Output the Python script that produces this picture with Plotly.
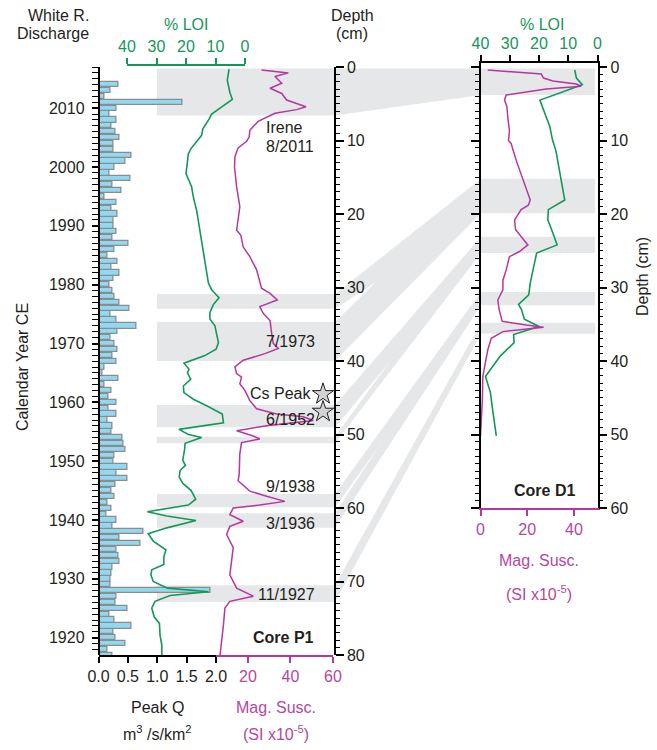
import plotly.graph_objects as go

# ---------------- DATA ----------------
years = list(range(1917, 2015))
peak_q_desc = [  # 2014 -> 1917
    0.34, 0.20, 0.11, 1.43, 0.31, 0.18, 0.31, 0.22, 0.29, 0.36,
    0.26, 0.26, 0.57, 0.46, 0.28, 0.19, 0.54, 0.23, 0.39, 0.10,
    0.31, 0.22, 0.33, 0.26, 0.26, 0.31, 0.23, 0.51, 0.27, 0.15,
    0.32, 0.22, 0.36, 0.26, 0.19, 0.24, 0.28, 0.35, 0.52, 0.21,
    0.31, 0.65, 0.33, 0.21, 0.27, 0.32, 0.24, 0.30, 0.10, 0.06,
    0.34, 0.10, 0.22, 0.17, 0.31, 0.17, 0.31, 0.16, 0.24, 0.22,
    0.40, 0.43, 0.46, 0.28, 0.25, 0.50, 0.31, 0.50, 0.29, 0.22,
    0.27, 0.16, 0.22, 0.13, 0.30, 0.24, 0.76, 0.35, 0.72, 0.31,
    0.34, 0.35, 0.23, 0.22, 0.20, 0.20, 1.91, 0.30, 0.29, 0.50,
    0.18, 0.27, 0.57, 0.26, 0.29, 0.46, 0.16, 0.24]
peak_q = peak_q_desc[::-1]

p1_loi_depth = [0.3, 1.8, 3.5, 4.4, 5.3, 6.4, 7.1, 8.4, 9.3, 11.1, 11.8, 14.5, 16.3, 17.7, 19.5,
                21.8, 24.5, 26.3, 29.4, 30.3, 31.4, 32.3, 33.4, 34.3, 35.2, 37.5, 38.4, 39.3, 40.3,
                41.1, 41.6, 42.5, 43.4, 44.3, 45.2, 46.1, 47.2, 48.4, 49.3, 50.0, 50.4, 51.2, 52.1,
                53.5, 54.2, 54.9, 55.8, 56.7, 57.6, 58.8, 59.6, 60.5, 61.1, 61.7, 62.7, 63.5, 64.5,
                65.7, 66.6, 67.7, 68.4, 69.1, 70.0, 70.9, 71.4, 71.9, 72.7, 73.6, 74.8, 75.7, 77.3,
                78.7, 80.0]
p1_loi = [5.4, 6.0, 5.1, 4.3, 7.4, 11.3, 12.2, 14.3, 14.7, 18.3, 19.2, 20.0, 18.1, 17.5, 16.4,
          15.5, 14.3, 13.7, 12.4, 11.3, 8.8, 10.7, 11.9, 11.9, 10.2, 9.0, 9.8, 13.8, 20.7,
          19.0, 19.5, 18.4, 20.9, 20.7, 17.5, 13.0, 7.7, 7.3, 22.4, 19.2, 14.7, 20.3, 20.5,
          21.1, 20.2, 22.0, 22.3, 21.0, 18.3, 16.7, 19.2, 33.1, 26.5, 16.6, 26.5, 32.8, 31.1,
          26.8, 27.5, 27.5, 31.6, 31.9, 31.1, 26.3, 12.4, 25.4, 30.5, 31.6, 30.8, 29.0, 28.8,
          28.2, 28.2]

p1_ms_depth = [0.4, 0.8, 1.3, 2.2, 2.9, 3.6, 4.5, 5.4, 5.8, 6.3, 7.4, 8.6, 9.5, 10.1, 11.0, 12.2,
               13.6, 16.3, 19.0, 20.8, 22.2, 22.9, 24.5, 25.8, 27.6, 30.1, 30.8, 31.7, 32.6, 33.5,
               34.5, 36.3, 37.6, 38.3, 39.0, 39.9, 40.8, 41.7, 42.2, 43.1, 44.0, 45.4, 46.5, 47.2,
               47.6, 48.1, 48.8, 49.5, 50.2, 50.6, 51.1, 52.6, 55.4, 56.3, 57.7, 58.4, 59.1, 59.6,
               60.0, 60.9, 61.8, 62.5, 63.6, 65.4, 66.8, 69.1, 70.9, 72.0, 72.7, 73.6, 75.9, 78.2,
               80.0]
p1_ms = [26.4, 39.0, 32.7, 35.9, 30.4, 35.9, 38.2, 47.3, 42.9, 32.7, 24.8, 20.9, 20.6, 19.4, 15.4, 13.9,
         13.7, 14.7, 16.2, 15.5, 14.7, 16.7, 17.8, 20.9, 24.1, 26.4, 30.4, 33.8, 25.6, 27.2,
         30.4, 31.2, 31.9, 34.3, 28.0, 17.8, 13.9, 14.7, 17.0, 16.2, 18.6, 20.9, 24.1, 33.5,
         46.0, 50.7, 28.8, 14.7, 22.5, 25.6, 17.0, 16.2, 15.9, 15.4, 20.9, 28.8, 37.4, 25.6,
         13.1, 11.5, 17.8, 11.5, 10.0, 13.1, 12.4, 11.5, 14.7, 22.5, 11.5, 9.2, 8.5, 7.7,
         6.9]

d1_loi_depth = [0.4, 1.5, 2.4, 2.9, 3.6, 4.5, 6.3, 8.1, 9.9, 11.4, 13.2, 15.4, 18.1, 19.4, 20.8,
                22.1, 24.2, 25.3, 27.6, 29.4, 31.0, 32.3, 33.0, 34.3, 35.3, 36.4, 37.5, 39.3, 42.1,
                43.0, 44.3, 46.2, 50.2]
d1_loi = [7.8, 7.2, 5.2, 8.4, 13.4, 19.7, 18.0, 16.3, 15.4, 14.2, 13.4, 12.3, 11.2, 16.8, 17.0,
          15.7, 13.8, 20.8, 21.9, 23.0, 23.5, 27.0, 26.0, 25.0, 20.0, 28.7, 28.5, 33.2, 38.3,
          37.5, 36.6, 36.0, 34.6]

d1_ms_depth = [0.4, 0.95, 1.5, 1.9, 2.3, 2.6, 3.0, 3.4, 3.8, 4.5, 5.4, 7.2, 8.6, 10.0, 10.4, 12.7,
               14.5, 15.8, 18.1, 18.8, 19.4, 20.8, 22.1, 23.0, 24.2, 25.1, 25.8, 27.6, 29.0, 30.3,
               31.7, 33.0, 34.6, 35.1, 35.4, 36.0, 36.9, 38.5, 42.1, 45.3, 49.8, 50.2]
d1_ms = [3.1, 26.0, 27.0, 31.0, 41.0, 43.1, 28.1, 18.8, 11.0, 10.3, 11.3, 11.8, 12.4, 12.0, 13.1, 15.3,
         17.4, 18.8, 21.3, 20.5, 17.4, 14.6, 15.0, 17.2, 20.3, 16.7, 12.4, 11.0, 9.6, 9.6,
         7.4, 8.0, 9.3, 19.6, 27.0, 9.6, 4.6, 3.1, 1.0, 0.8, 0.3, 0.0]

# correlated event layers (depth ranges, cm)
p1_bands = [(0.2, 6.6), (30.9, 32.9), (34.7, 40.0), (46.0, 49.0), (50.3, 51.2),
            (58.1, 59.9), (60.7, 62.7), (70.5, 72.8)]
d1_bands = [(0.2, 3.8), (15.2, 19.9), (23.1, 25.3), (30.6, 32.4), (34.8, 36.3)]
links = [(0, 0), (1, 1), (2, 1), (3, 2), (4, 2), (5, 3), (6, 3), (7, 4)]

star_ms = [55.3, 55.3]
star_depth = [44.5, 46.9]

year_ticks = list(range(1920, 2011, 10))
q_ticks = [0, 0.5, 1.0, 1.5, 2.0]
q_ticktext = ['0.0', '0.5', '1.0', '1.5', '2.0']

# ---------------- STYLE ----------------
W, H = 657, 750
def px(x): return x / W
def py(y): return 1 - y / H

FONT = 'Liberation Sans, Arial, Helvetica, sans-serif'
TXT = '#231F20'
GREEN = '#15975A'
MAG = '#B3399F'
MAGT = '#B5479F'
BAND = '#E6E7E8'
FS = 16

fig = go.Figure()

fig.add_trace(go.Bar(x=peak_q, y=years, orientation='h', xaxis='x', yaxis='y', width=0.9,
                     marker=dict(color='#93D8F1', line=dict(color='#8C8C8C', width=1.3)),
                     showlegend=False, hoverinfo='skip'))
fig.add_trace(go.Scatter(x=p1_loi, y=p1_loi_depth, xaxis='x3', yaxis='y2', mode='lines',
                         line=dict(color=GREEN, width=1.6), showlegend=False))
fig.add_trace(go.Scatter(x=p1_ms, y=p1_ms_depth, xaxis='x2', yaxis='y2', mode='lines',
                         line=dict(color=MAG, width=1.5), showlegend=False))
fig.add_trace(go.Scatter(x=star_ms, y=star_depth, xaxis='x2', yaxis='y2', mode='markers',
                         marker=dict(symbol='star', size=16, color='#D2D3D5',
                                     line=dict(color=TXT, width=1)),
                         cliponaxis=False, showlegend=False))
fig.add_trace(go.Scatter(x=d1_loi, y=d1_loi_depth, xaxis='x4', yaxis='y3', mode='lines',
                         line=dict(color=GREEN, width=1.6), showlegend=False))
fig.add_trace(go.Scatter(x=d1_ms, y=d1_ms_depth, xaxis='x5', yaxis='y3', mode='lines',
                         line=dict(color=MAG, width=1.5), showlegend=False))

# bands and connectors
shapes = []
for a, b in p1_bands:
    shapes.append(dict(type='rect', xref='paper', yref='y2', x0=px(157), x1=px(335), y0=a, y1=b,
                       fillcolor=BAND, line=dict(width=0), layer='below'))
for a, b in d1_bands:
    shapes.append(dict(type='rect', xref='paper', yref='y2', x0=px(481), x1=px(595), y0=a, y1=b,
                       fillcolor=BAND, line=dict(width=0), layer='below'))
for i, j in links:
    aL, bL = p1_bands[i]
    aR, bR = d1_bands[j]
    path = (f"M {px(335)},{aL} L {px(481)},{aR} L {px(481)},{bR} L {px(335)},{bL} Z")
    shapes.append(dict(type='path', xref='paper', yref='y2', path=path,
                       fillcolor=BAND, line=dict(width=0), layer='below'))

tickf = dict(family=FONT, size=FS, color=TXT)
common = dict(showgrid=False, zeroline=False, showline=True, ticks='outside', automargin=False)

layout = dict(
    width=W, height=H, margin=dict(l=0, r=0, t=0, b=0, autoexpand=False),
    paper_bgcolor='white', plot_bgcolor='rgba(0,0,0,0)',
    font=dict(family=FONT, size=FS, color=TXT),
    showlegend=False, shapes=shapes,
    bargap=0,
    xaxis=dict(domain=[px(98.5), px(216)], range=[0, 2], anchor='y', tickvals=q_ticks,
               ticktext=q_ticktext, linecolor='black', linewidth=1.5, tickcolor='black',
               tickwidth=1.5, ticklen=6, tickfont=tickf, **common),
    yaxis=dict(domain=[py(655), py(67)], range=[1917.06, 2017.0], anchor='free',
               position=px(98.5), side='left', tickvals=year_ticks, linecolor='black',
               linewidth=1.5, tickcolor='black', tickwidth=1.5, ticklen=6, tickfont=tickf,
               ticklabelstandoff=4,
               minor=dict(dtick=1, tick0=1917, ticks='outside', ticklen=6, tickwidth=1.3,
                          tickcolor='black'), **common),
    xaxis2=dict(domain=[px(216), px(333)], range=[5, 60], anchor='y2', tickvals=[20, 40, 60],
                linecolor=MAG, linewidth=1.5, tickcolor=MAG, tickwidth=1.5, ticklen=6,
                tickfont=dict(family=FONT, size=FS, color=MAGT), **common),
    yaxis2=dict(domain=[py(655), py(67)], range=[80, 0], anchor='free', position=px(335),
                side='right', dtick=10, tick0=0, linecolor='black', linewidth=1.5,
                tickcolor='black', tickwidth=1.5, ticklen=8, tickfont=tickf,
                minor=dict(dtick=1, tick0=0, ticks='outside', ticklen=4, tickwidth=1.2,
                           tickcolor='black'), **common),
    xaxis3=dict(domain=[px(127), px(245)], range=[40, 0], anchor='free', position=py(65),
                side='top', tickvals=[0, 10, 20, 30, 40], linecolor=GREEN, linewidth=1.5,
                tickcolor=GREEN, tickwidth=1.5, ticklen=6,
                tickfont=dict(family=FONT, size=FS, color=GREEN), **common),
    yaxis3=dict(domain=[py(508), py(63)], range=[60, -0.55], anchor='x4', side='right',
                mirror='ticks', dtick=10, tick0=0, linecolor='black', linewidth=1.5,
                tickcolor='black', tickwidth=1.5, ticklen=8, tickfont=tickf,
                minor=dict(dtick=1, tick0=0, ticks='outside', ticklen=4, tickwidth=1.2,
                           tickcolor='black'), **common),
    xaxis4=dict(domain=[px(480.5), px(597.5)], range=[40, 0], anchor='y3', side='top',
                tickvals=[0, 10, 20, 30, 40], linecolor='black', linewidth=1.5,
                tickcolor='black', tickwidth=1.5, ticklen=6,
                tickfont=dict(family=FONT, size=FS, color=GREEN), **common),
    xaxis5=dict(domain=[px(480.5), px(597.5)], range=[0, 50.1], anchor='y3', side='bottom',
                overlaying='x4', tickvals=[0, 20, 40], linecolor=MAG, linewidth=1.5,
                tickcolor=MAG, tickwidth=1.5, ticklen=6,
                tickfont=dict(family=FONT, size=FS, color=MAGT), **common),
)
fig.update_layout(**layout)

def ann(text, x, y, xanchor='center', color=TXT, bold=False, angle=0, align='center'):
    if bold:
        text = f'<b>{text}</b>'
    fig.add_annotation(text=text, x=px(x), y=py(y), xref='paper', yref='paper',
                       xanchor=xanchor, yanchor='middle', showarrow=False, textangle=angle,
                       align=align, font=dict(family=FONT, size=FS, color=color))

ann('White R.', 91, 15, 'right')
ann('Discharge', 91, 33, 'right')
ann('% LOI', 186, 25, color=GREEN)
ann('Depth', 352, 15)
ann('(cm)', 352, 33)
ann('% LOI', 542, 25, color=GREEN)
ann('Calendar Year CE', 22, 367, angle=-90)
ann('Depth (cm)', 643, 277, angle=-90)

ann('Irene', 264, 128, 'left')
ann('8/2011', 264, 147, 'left')
ann('7/1973', 317, 341, 'right')
ann('Cs Peak', 313, 393, 'right')
ann('6/1952', 317, 419, 'right')
ann('9/1938', 317, 486, 'right')
ann('3/1936', 317, 523, 'right')
ann('11/1927', 317, 594, 'right')
ann('Core P1', 316, 637, 'right', bold=True)
ann('Core D1', 544, 491, bold=True)

ann('Peak Q', 157, 707)
ann('m<sup>3</sup> /s/km<sup>2</sup>', 157, 733)
ann('Mag. Susc.', 276, 707, color=MAGT)
ann('(SI x10<sup>-5</sup>)', 276, 733, color=MAGT)
ann('Mag. Susc.', 539, 560, color=MAGT)
ann('(SI x10<sup>-5</sup>)', 539, 593, color=MAGT)

fig.write_html('out.html', config={'displayModeBar': False},
               post_script="document.body.style.margin='0px';document.body.style.padding='0px';")
